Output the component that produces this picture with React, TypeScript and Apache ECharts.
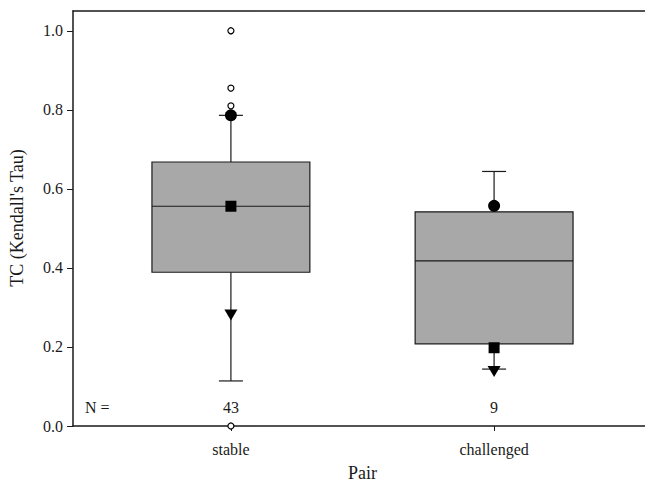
import React, { useEffect, useRef } from 'react';
import * as echarts from 'echarts';

const categories = ['stable', 'challenged'];
const positions = [1, 2];
const whiskerLow = [0.114, 0.144];
const q1 = [0.389, 0.208];
const medians = [0.556, 0.418];
const q3 = [0.668, 0.542];
const whiskerHigh = [0.786, 0.644];
const means = [0.556, 0.198];
const pct5 = [0.281, 0.138];
const pct95 = [0.786, 0.557];
const outlierPos = [1, 1, 1, 1];
const outlierVals = [1.0, 0.855, 0.81, 0.0];
const counts = [43, 9];
const countLevel = 0.048;
const yTicks = [0, 0.2, 0.4, 0.6, 0.8, 1.0];

const FONT = "'Liberation Serif', 'DejaVu Serif', serif";
const INK = '#1a1a1a';

export default function App() {
  const ref = useRef<HTMLDivElement>(null);
  useEffect(() => {
    if (!ref.current) return;
    const chart = echarts.init(ref.current, undefined, { renderer: 'svg' });
    const boxData = positions.map((p, i) => [p, whiskerLow[i], q1[i], medians[i], q3[i], whiskerHigh[i]]);
    const option: any = {
      animation: false,
      backgroundColor: '#fff',
      textStyle: { fontFamily: FONT },
      grid: {
        left: 73, top: 11, width: 579, bottom: 59,
        outerBoundsMode: 'none', containLabel: false, show: false,
      },
      xAxis: [
        {
          type: 'value', min: 0.4, max: 2.6,
          splitLine: { show: false },
          axisLine: { show: true, lineStyle: { color: INK, width: 1.5 } },
          axisTick: { show: true, customValues: positions, length: 5, lineStyle: { color: INK } },
          axisLabel: {
            customValues: positions, margin: 15, fontSize: 16, color: INK, fontFamily: FONT,
            formatter: (v: number) => categories[positions.indexOf(v)] ?? '',
          },
          name: 'Pair', nameLocation: 'middle', nameGap: 38,
          nameTextStyle: { fontSize: 18, color: INK, fontFamily: FONT },
        },
        {
          type: 'value', min: 0.4, max: 2.6, position: 'top',
          splitLine: { show: false },
          axisLine: { show: true, lineStyle: { color: INK, width: 1.5 } },
          axisTick: { show: false },
          axisLabel: { show: false },
        },
      ],
      yAxis: {
        type: 'value', min: 0, max: 1.05,
        splitLine: { show: false },
        axisLine: { show: true, lineStyle: { color: INK, width: 1.5 } },
        axisTick: { show: true, customValues: yTicks, length: 6, lineStyle: { color: INK } },
        axisLabel: {
          customValues: yTicks, margin: 10, fontSize: 16, color: INK, fontFamily: FONT,
          formatter: (v: number) => v.toFixed(1),
        },
      },
      graphic: [
        {
          type: 'text', x: 17, y: 218, rotation: Math.PI / 2,
          style: { text: "TC (Kendall's Tau)", fontSize: 18, fill: INK, fontFamily: FONT, align: 'center', verticalAlign: 'middle' },
        },
        {
          type: 'text', x: 85, y: 407,
          style: { text: 'N =', fontSize: 16, fill: INK, fontFamily: FONT, align: 'left', verticalAlign: 'middle' },
        },
      ],
      series: [
        {
          type: 'custom',
          data: boxData,
          encode: { x: 0, y: [1, 2, 3, 4, 5] },
          clip: false,
          renderItem: (params: any, api: any) => {
            const x = api.value(0);
            const lo = api.coord([x, api.value(1)]);
            const b1 = api.coord([x, api.value(2)]);
            const md = api.coord([x, api.value(3)]);
            const b3 = api.coord([x, api.value(4)]);
            const hi = api.coord([x, api.value(5)]);
            const half = api.size([0.6, 0])[0] / 2;
            const cap = 12;
            const cx = lo[0];
            const ls = { stroke: INK, lineWidth: 1.2 };
            return {
              type: 'group',
              children: [
                { type: 'line', shape: { x1: cx, y1: b3[1], x2: cx, y2: hi[1] }, style: ls },
                { type: 'line', shape: { x1: cx, y1: b1[1], x2: cx, y2: lo[1] }, style: ls },
                { type: 'line', shape: { x1: cx - cap, y1: hi[1], x2: cx + cap, y2: hi[1] }, style: ls },
                { type: 'line', shape: { x1: cx - cap, y1: lo[1], x2: cx + cap, y2: lo[1] }, style: ls },
                {
                  type: 'rect',
                  shape: { x: cx - half, y: b3[1], width: half * 2, height: b1[1] - b3[1] },
                  style: { fill: '#a8a8a8', stroke: INK, lineWidth: 1.2 },
                },
                { type: 'line', shape: { x1: cx - half, y1: md[1], x2: cx + half, y2: md[1] }, style: ls },
              ],
            };
          },
        },
        {
          type: 'scatter', name: 'mean', clip: false,
          data: positions.map((p, i) => [p, means[i]]),
          symbol: 'rect', symbolSize: 11, itemStyle: { color: '#000', opacity: 1 },
        },
        {
          type: 'scatter', name: '5th', clip: false,
          data: positions.map((p, i) => [p, pct5[i]]),
          symbol: 'triangle', symbolRotate: 180, symbolSize: [13, 11], itemStyle: { color: '#000', opacity: 1 },
        },
        {
          type: 'scatter', name: '95th', clip: false,
          data: positions.map((p, i) => [p, pct95[i]]),
          symbol: 'circle', symbolSize: 12, itemStyle: { color: '#000', opacity: 1 },
        },
        {
          type: 'scatter', name: 'outliers', clip: false,
          data: outlierPos.map((p, i) => [p, outlierVals[i]]),
          symbol: 'circle', symbolSize: 6,
          itemStyle: { color: '#fff', borderColor: '#000', borderWidth: 1.2, opacity: 1 },
        },
        {
          type: 'scatter', name: 'N', clip: false,
          data: positions.map((p, i) => [p, countLevel, counts[i]]),
          symbolSize: 1,
          itemStyle: { color: 'rgba(0,0,0,0)', opacity: 1 },
          label: {
            show: true, position: 'inside', fontSize: 16, color: INK, fontFamily: FONT,
            textBorderWidth: 0,
            formatter: (p: any) => String(p.value[2]),
          },
        },
      ],
    };
    chart.setOption(option);
    return () => chart.dispose();
  }, []);
  return <div ref={ref} style={{ position: 'fixed', left: 0, top: 0, width: 645, height: 485 }} />;
}
